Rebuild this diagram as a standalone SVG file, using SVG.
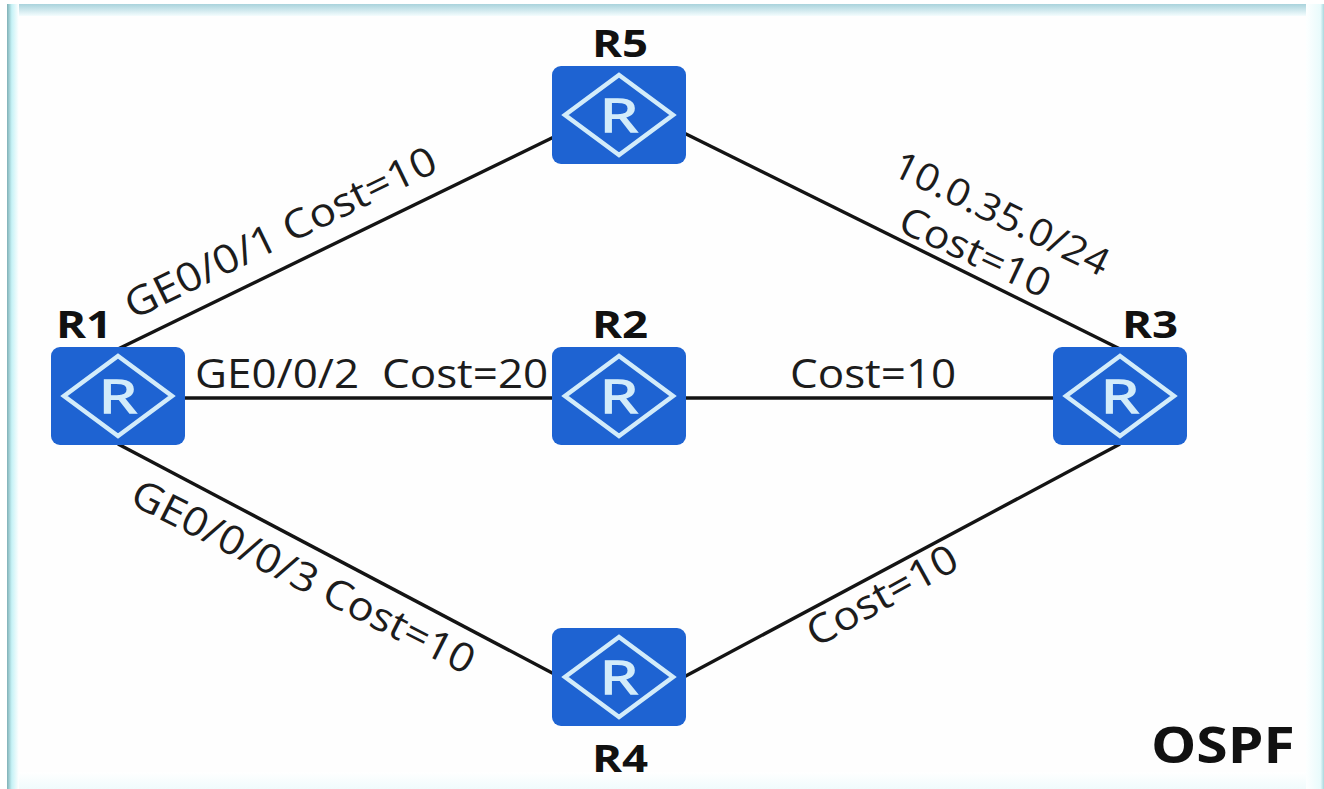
<svg xmlns="http://www.w3.org/2000/svg" width="1324" height="789" viewBox="0 0 1324 789">
<defs>
<linearGradient id="top" x1="0" y1="0" x2="0" y2="1"><stop offset="0" stop-color="#a9d3dc"/><stop offset="1" stop-color="#f4fdfe"/></linearGradient>
<linearGradient id="left" x1="0" y1="0" x2="1" y2="0"><stop offset="0" stop-color="#7fb0b6"/><stop offset="0.4" stop-color="#c6f2f6"/><stop offset="1" stop-color="#ffffff"/></linearGradient>
<linearGradient id="right" x1="0" y1="0" x2="1" y2="0"><stop offset="0" stop-color="#fdffff"/><stop offset="0.8" stop-color="#e9fbfc"/><stop offset="1" stop-color="#a9d8de"/></linearGradient>
<linearGradient id="bottom" x1="0" y1="0" x2="0" y2="1"><stop offset="0" stop-color="#ffffff"/><stop offset="1" stop-color="#f0fbfc"/></linearGradient>
<g id="router">
<rect x="-67" y="-49" width="134" height="98" rx="9" fill="#1e63d2"/>
<path d="M0 -40 L54 0 L0 40 L-54 0 Z" fill="none" stroke="#d3ecfa" stroke-width="4.5"/>
<text transform="translate(0,17) scale(1.35,1)" x="0" y="0" text-anchor="middle" font-family="'Open Sans','DejaVu Sans',sans-serif" font-size="46" stroke="#d3ecfa" stroke-width="1.4" fill="#d3ecfa">R</text>
</g>
</defs>
<style>
.lbl{font-family:"Open Sans","DejaVu Sans",sans-serif;font-size:40px;fill:#1c1c1c}
.name{font-family:"Open Sans","DejaVu Sans",sans-serif;font-size:38px;font-weight:700;fill:#111}
.link{stroke:#141414;stroke-width:3.4;fill:none}
</style>
<rect width="1324" height="789" fill="#ffffff"/>
<rect x="7" y="4" width="1316" height="785" fill="#fefefe"/>
<rect x="7" y="772" width="1316" height="17" fill="url(#bottom)"/>
<rect x="7" y="4" width="1316" height="12" fill="url(#top)"/>
<rect x="7" y="4" width="12" height="785" fill="url(#left)"/>
<rect x="1306" y="4" width="18" height="785" fill="url(#right)"/>
<g id="connectors">
<line class="link" x1="118" y1="349" x2="560" y2="134"/>
<line class="link" x1="680" y1="131" x2="1120" y2="349"/>
<line class="link" x1="180" y1="398" x2="556" y2="398"/>
<line class="link" x1="682" y1="398" x2="1058" y2="398"/>
<line class="link" x1="118" y1="444" x2="556" y2="675"/>
<line class="link" x1="682" y1="678" x2="1120" y2="444"/>
</g>
<g id="R1"><use href="#router" x="118" y="396"/><text class="name" transform="translate(84,338) scale(1.2,1)" text-anchor="middle">R1</text></g>
<g id="R2"><use href="#router" x="619" y="396"/><text class="name" transform="translate(620,338) scale(1.2,1)" text-anchor="middle">R2</text></g>
<g id="R3"><use href="#router" x="1120" y="396"/><text class="name" transform="translate(1150,338) scale(1.2,1)" text-anchor="middle">R3</text></g>
<g id="R4"><use href="#router" x="619" y="677"/><text class="name" transform="translate(620,772) scale(1.2,1)" text-anchor="middle">R4</text></g>
<g id="R5"><use href="#router" x="619" y="115"/><text class="name" transform="translate(620,57) scale(1.2,1)" text-anchor="middle">R5</text></g>
<g id="labels">
<text class="lbl" transform="translate(133,320) rotate(-26) scale(1.1,1)">GE0/0/1 Cost=10</text>
<text class="lbl" transform="translate(195,388) scale(1.1,1)" xml:space="preserve">GE0/0/2  Cost=20</text>
<text class="lbl" transform="translate(790,388) scale(1.1,1)">Cost=10</text>
<text class="lbl" transform="translate(128,503) rotate(27) scale(1.09,1)">GE0/0/0/3 Cost=10</text>
<text class="lbl" transform="translate(816,648) rotate(-29) scale(1.1,1)">Cost=10</text>
<text class="lbl" style="font-size:38px" transform="translate(890,174) rotate(26) scale(1.08,1)">10.0.35.0/24</text>
<text class="lbl" style="font-size:39px" transform="translate(896,230) rotate(25) scale(1.1,1)">Cost=10</text>
<text class="name" style="font-size:50px" transform="translate(1151,763) scale(1.14,1)">OSPF</text>
</g>
</svg>
